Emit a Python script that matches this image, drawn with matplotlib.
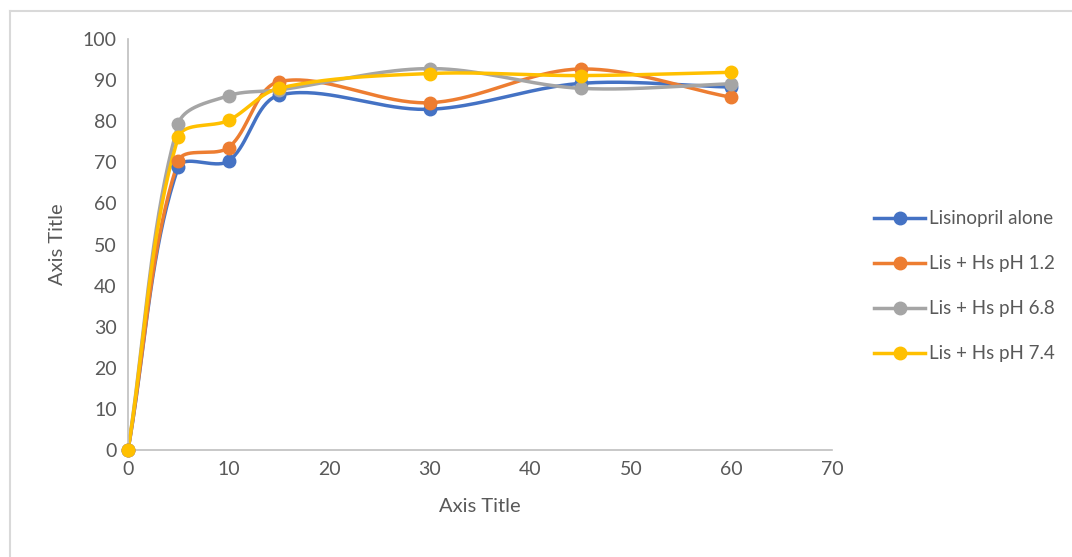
import numpy as np
import matplotlib.pyplot as plt
from matplotlib.lines import Line2D

plt.rcParams['font.family'] = ['Lato', 'DejaVu Sans']

# dissolution time points (min)
time = [0, 5, 10, 15, 30, 45, 60]

lis_alone = [0, 68.8, 70.3, 86.3, 82.9, 89.2, 88.3]
lis_ph12 = [0, 70.3, 73.6, 89.6, 84.5, 92.7, 85.8]
lis_ph68 = [0, 79.3, 86.2, 87.6, 92.8, 88.0, 89.1]
lis_ph74 = [0, 76.1, 80.2, 88.0, 91.6, 91.1, 91.9]

labels = ["Lisinopril alone", "Lis + Hs pH 1.2", "Lis + Hs pH 6.8", "Lis + Hs pH 7.4"]
colors = ["#4472C4", "#ED7D31", "#A5A5A5", "#FFC000"]

# rough pixel size of one data unit, used so smoothing works in screen space
SX, SY = 10.06, 4.11


def smooth(xs, ys, n=40):
    # excel-like smoothed line: bezier segments, tangents weighted by chord length
    px = np.array([xs[0]] + list(xs) + [xs[-1]], float) * SX
    py = np.array([ys[0]] + list(ys) + [ys[-1]], float) * SY
    pts = np.column_stack([px, py])
    outx, outy = [], []
    t = np.linspace(0, 1, n)[:, None]
    for i in range(1, len(pts) - 2):
        p0, p1, p2, p3 = pts[i - 1], pts[i], pts[i + 1], pts[i + 2]
        d01 = np.hypot(*(p1 - p0))
        d12 = np.hypot(*(p2 - p1))
        d23 = np.hypot(*(p3 - p2))
        f1 = d12 / (d01 + d12) / 3 if d01 + d12 > 0 else 0
        f2 = d12 / (d12 + d23) / 3 if d12 + d23 > 0 else 0
        c1 = p1 + (p2 - p0) * f1
        c2 = p2 - (p3 - p1) * f2
        b = (1 - t) ** 3 * p1 + 3 * (1 - t) ** 2 * t * c1 + 3 * (1 - t) * t ** 2 * c2 + t ** 3 * p2
        outx.extend(b[:, 0] / SX)
        outy.extend(b[:, 1] / SY)
    return outx, outy


fig = plt.figure(figsize=(10.72, 5.57), dpi=100)
ax = fig.add_axes([0.1194, 0.192, 0.6567, 0.738])

series = [lis_alone, lis_ph12, lis_ph68, lis_ph74]
for ys, c in zip(series, colors):
    sx, sy = smooth(time, ys)
    ax.plot(sx, sy, color=c, lw=2.5, solid_capstyle="round", zorder=2)
    ax.plot(time, ys, "o", color=c, ms=9, zorder=3, clip_on=False)

ax.set_xlim(0, 70)
ax.set_ylim(0, 100)
ax.set_xticks(range(0, 71, 10))
ax.set_yticks(range(0, 101, 10))
for s in ["top", "right"]:
    ax.spines[s].set_visible(False)
ax.spines["left"].set_color("#BFBFBF")
ax.spines["bottom"].set_color("#BFBFBF")
ax.spines["left"].set_linewidth(1.2)
ax.spines["bottom"].set_linewidth(1.2)
ax.tick_params(length=0, labelsize=14, labelcolor="#595959", pad=8)
ax.set_xlabel("Axis Title", fontsize=14.5, color="#595959", labelpad=14)
ax.set_ylabel("Axis Title", fontsize=14.5, color="#595959", labelpad=12)

handles = [Line2D([0], [0], color=c, lw=2.5, marker="o", ms=9) for c in colors]
leg = fig.legend(handles, labels, loc="center left", bbox_to_anchor=(0.8, 0.486),
                 frameon=False, fontsize=13.5, handlelength=2.7, handletextpad=0.2,
                 labelspacing=1.5)
for t in leg.get_texts():
    t.set_color("#595959")

# chart area border (top and left edges visible)
fig.add_artist(Line2D([10 / 1072, 1.0], [1 - 11 / 557, 1 - 11 / 557], color="#D9D9D9", lw=1.5))
fig.add_artist(Line2D([10 / 1072, 10 / 1072], [0, 1 - 11 / 557], color="#D9D9D9", lw=1.5))

fig.savefig("out.png", dpi=100)
